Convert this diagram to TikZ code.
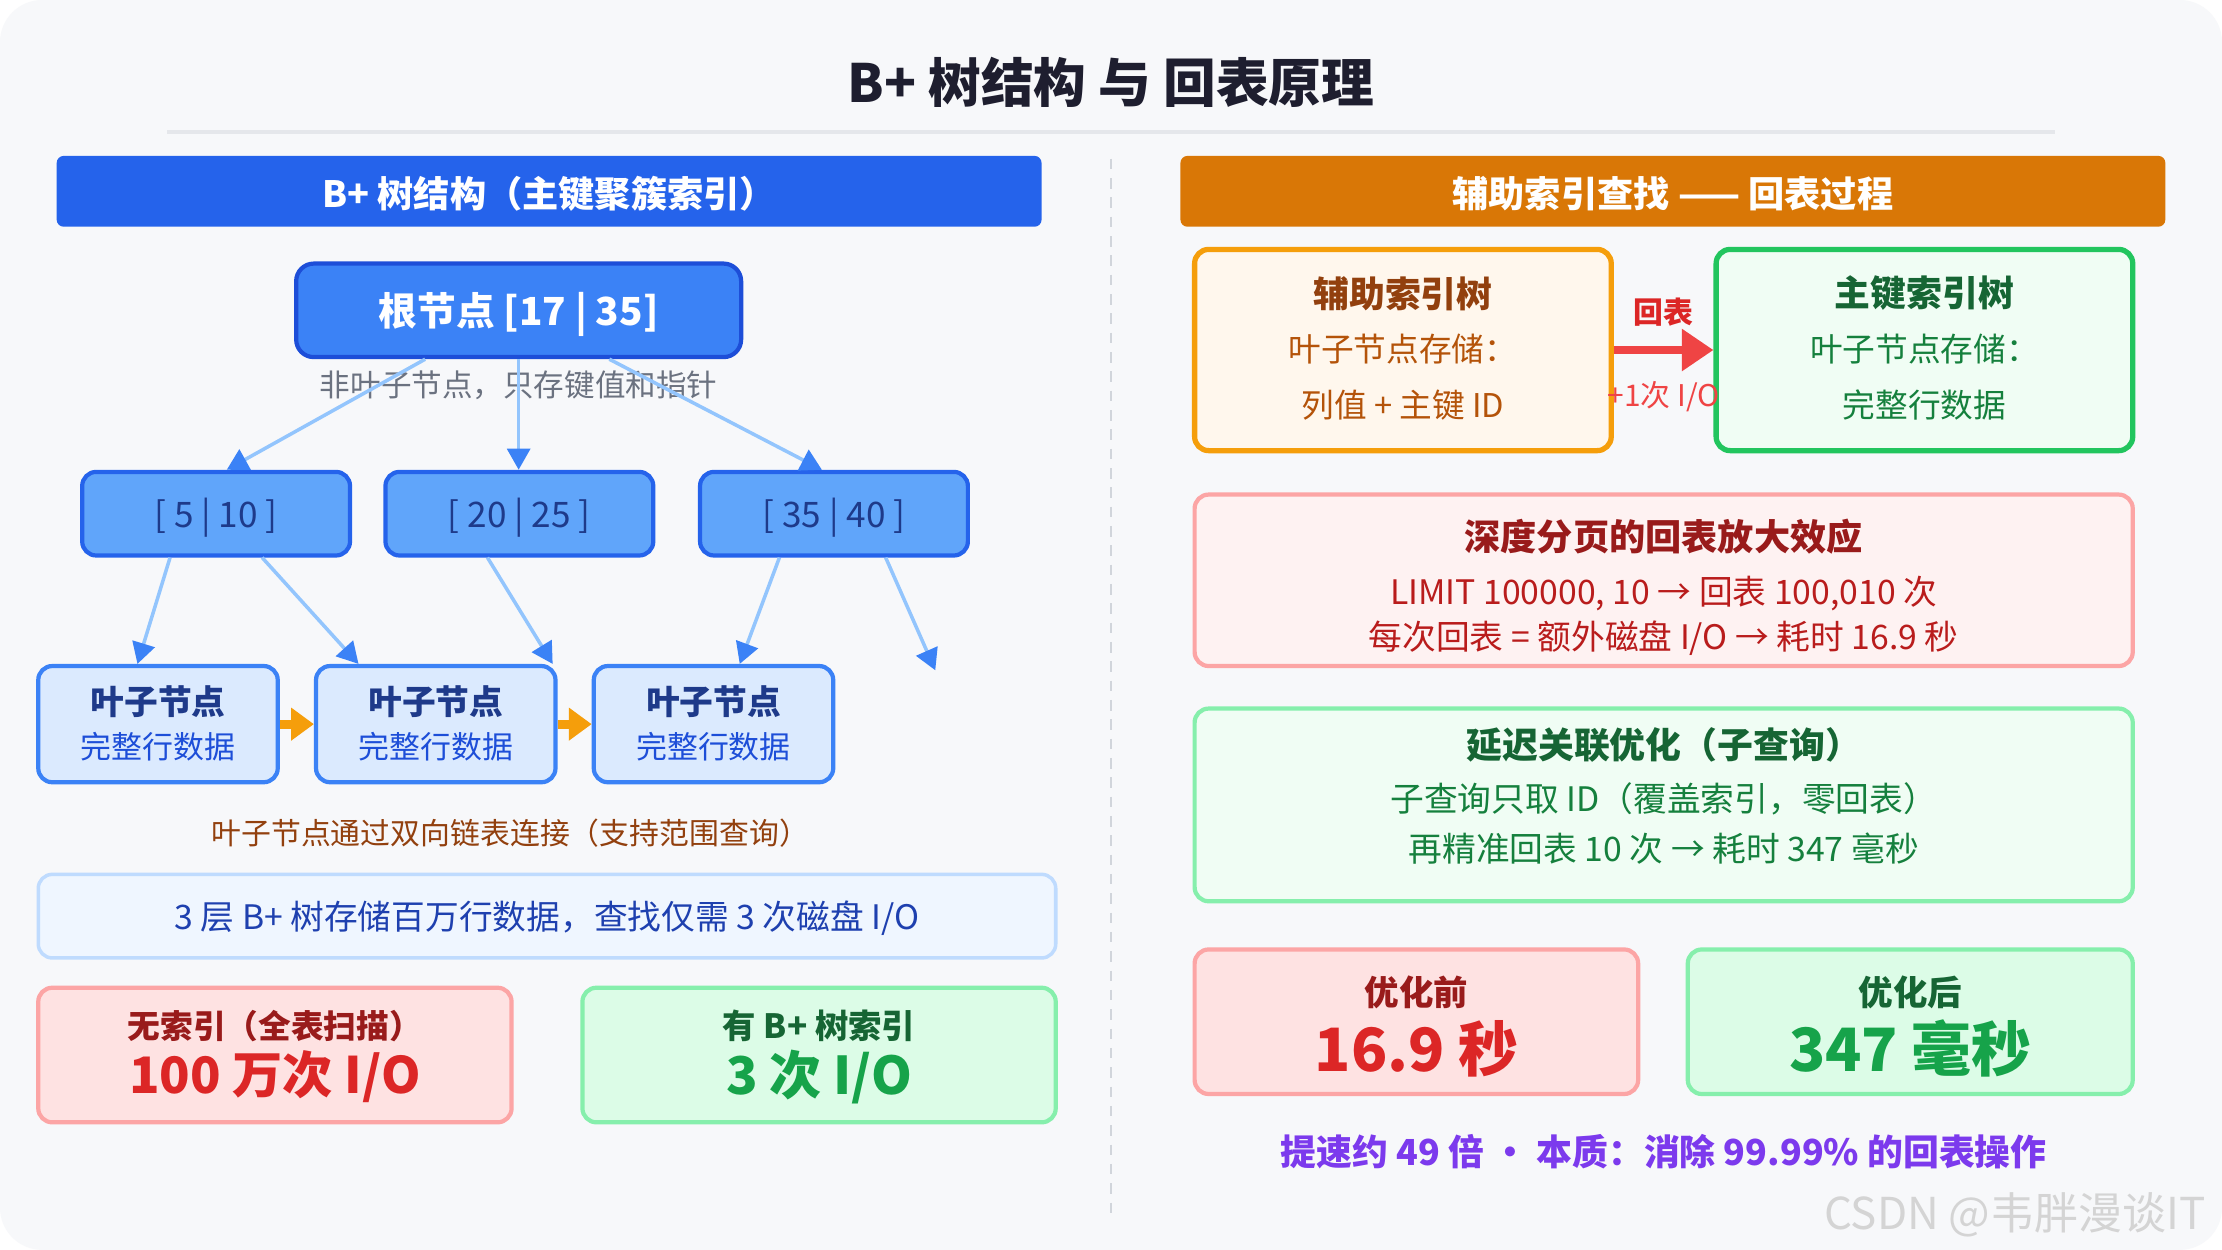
\documentclass[tikz,border=0pt]{standalone}
\usepackage{fontspec}
\setmainfont{Noto Sans CJK SC}
\usepackage{xcolor}
\usetikzlibrary{arrows.meta,fit,positioning}

\definecolor{pagebg}{HTML}{F7F8FA}
\definecolor{titleink}{HTML}{1E1E2F}
\definecolor{rulegray}{HTML}{E5E7EB}
\definecolor{divgray}{HTML}{D1D5DB}
\definecolor{barblue}{HTML}{2563EB}
\definecolor{barorange}{HTML}{D97706}
\definecolor{rootfill}{HTML}{3B82F6}
\definecolor{rootedge}{HTML}{1D4ED8}
\definecolor{innerfill}{HTML}{60A5FA}
\definecolor{inneredge}{HTML}{2563EB}
\definecolor{navy}{HTML}{1E3A8A}
\definecolor{leaffill}{HTML}{DBEAFE}
\definecolor{leafsub}{HTML}{1D4ED8}
\definecolor{linkblue}{HTML}{93C5FD}
\definecolor{tipblue}{HTML}{3B82F6}
\definecolor{chainor}{HTML}{F59E0B}
\definecolor{capgray}{HTML}{6B7280}
\definecolor{brown}{HTML}{92400E}
\definecolor{infofill}{HTML}{EFF6FF}
\definecolor{infoedge}{HTML}{BFDBFE}
\definecolor{infoink}{HTML}{1E40AF}
\definecolor{redfill}{HTML}{FEE2E2}
\definecolor{redfill2}{HTML}{FEF2F2}
\definecolor{rededge}{HTML}{FCA5A5}
\definecolor{redtitle}{HTML}{991B1B}
\definecolor{redink}{HTML}{B91C1C}
\definecolor{redbig}{HTML}{DC2626}
\definecolor{greenfill}{HTML}{DCFCE7}
\definecolor{greenfill2}{HTML}{F0FDF4}
\definecolor{greenedge}{HTML}{86EFAC}
\definecolor{greenedge2}{HTML}{22C55E}
\definecolor{greentitle}{HTML}{166534}
\definecolor{greenink}{HTML}{15803D}
\definecolor{greenbig}{HTML}{16A34A}
\definecolor{secfill}{HTML}{FFF7ED}
\definecolor{secink}{HTML}{B45309}
\definecolor{backred}{HTML}{EF4444}
\definecolor{purple}{HTML}{7C3AED}
\definecolor{markgray}{HTML}{D4D4D4}

\newcommand{\fsz}[1]{\fontsize{#1pt}{#1pt}\selectfont}

\begin{document}
\begin{tikzpicture}[x=0.14171mm, y=-0.14171mm,
    box/.style={draw, rounded corners=4pt, line width=1.2pt, inner sep=0pt},
    bar/.style={rounded corners=2pt, inner sep=0pt},
    bartext/.style={text=white, font=\bfseries\fsz{10.3}, yshift=-0.6pt},
    link/.style={draw=linkblue, line width=1pt, -{Triangle[length=6pt,width=6.5pt,color=tipblue]}},
    chain/.style={draw=chainor, line width=2.5pt, -{Triangle[length=6.5pt,width=9pt]}},
    back/.style={draw=backred, line width=2.2pt, -{Triangle[length=9pt,width=11.5pt]}}]

    % page
    \fill[white] (0,0) rectangle (1568,882);
    \fill[pagebg, rounded corners=12pt] (0,0) rectangle (1568,882);

    \node[font=\bfseries\fsz{15}, text=titleink] (title) at (784,58) {B+ 树结构 与 回表原理};
    \draw[rulegray, line width=1.2pt] (118,93) -- (1450,93);
    \draw[divgray, line width=0.8pt, dash pattern=on 3pt off 2.5pt] (784,112) -- (784,862);

    % Left: B+ tree
    \node[bar, fill=barblue, fit={(40,110) (735,160)}] (lbar) {};
    \node[bartext] (lbar-text) at (lbar.center) {B+ 树结构（主键聚簇索引）};

    \node[box, draw=rootedge, fill=rootfill, rounded corners=5pt, fit={(209,186) (523,252)}] (root) {};
    \node[text=white, font=\bfseries\fsz{11}, yshift=-1.2pt] (root-text) at (root.center) {根节点 [17 | 35]};
    \node[font=\fsz{8.7}, text=capgray] (rootnote) at (366,272) {非叶子节点，只存键值和指针};

    \foreach \n/\x/\lab in {n1/58/{[ 5 | 10 ]}, n2/272/{[ 20 | 25 ]}, n3/494/{[ 35 | 40 ]}} {
        \node[box, draw=inneredge, fill=innerfill, fit={(\x,333) (\x+189,392)}] (\n) {};
        \node[text=navy, font=\fsz{10}, yshift=-1.2pt] (\n-text) at (\n.center) {\lab};
    }

    \foreach \n/\x in {l1/27, l2/223, l3/419} {
        \node[box, draw=tipblue, fill=leaffill, fit={(\x,470) (\x+169,552)}] (\n) {};
        \node[font=\bfseries\fsz{9.6}, text=navy] (\n-top) at (\x+84.5,495) {叶子节点};
        \node[font=\fsz{8.8}, text=leafsub] (\n-sub) at (\x+84.5,527) {完整行数据};
    }

    \draw[link] (root.south -| 300,0) -- (n1.north -| 160,0);
    \draw[link] (root.south -| 366,0) -- (n2.north -| 366,0);
    \draw[link] (root.south -| 430,0) -- (n3.north -| 580,0);

    \coordinate (nextleaf) at (660,473);
    \draw[link] (n1.south -| 120,0) -- (l1.north -| 97,0);
    \draw[link] (n1.south -| 185,0) -- (l2.north -| 253,0);
    \draw[link] (n2.south -| 344,0) -- (l2.north -| 390,0);
    \draw[link] (n3.south -| 550,0) -- (l3.north -| 522,0);
    \draw[link] (n3.south -| 625,0) -- (nextleaf);

    \draw[chain] (l1.east) -- (l2.west);
    \draw[chain] (l2.east) -- (l3.west);

    \node[font=\fsz{8.5}, text=brown] (chainnote) at (360,588) {叶子节点通过双向链表连接（支持范围查询）};

    \node[box, line width=1pt, draw=infoedge, fill=infofill, fit={(27,617) (745,676)}] (info) {};
    \node[font=\fsz{9.6}, text=infoink, yshift=-0.6pt] (info-text) at (info.center) {3 层 B+ 树存储百万行数据，查找仅需 3 次磁盘 I/O};

    \node[box, draw=rededge, fill=redfill, fit={(27,697) (361,792)}] (noidx) {};
    \node[font=\bfseries\fsz{9.3}, text=redtitle] (noidx-top) at (194,724) {无索引（全表扫描）};
    \node[font=\bfseries\fsz{14.3}, text=redbig] (noidx-big) at (194,760) {100 万次 I/O};

    \node[box, draw=greenedge, fill=greenfill, fit={(411,697) (745,792)}] (withidx) {};
    \node[font=\bfseries\fsz{9.5}, text=greentitle] (withidx-top) at (578,724) {有 B+ 树索引};
    \node[font=\bfseries\fsz{14.8}, text=greenbig] (withidx-big) at (578,760) {3 次 I/O};

    % Right: lookup back to table
    \node[bar, fill=barorange, fit={(833,110) (1528,160)}] (rbar) {};
    \node[bartext] (rbar-text) at (rbar.center) {辅助索引查找 —— 回表过程};

    \node[box, line width=1.5pt, draw=chainor, fill=secfill, fit={(843,176) (1137,318)}] (sec) {};
    \node[font=\bfseries\fsz{10.2}, text=brown] (sec-top) at (990,207) {辅助索引树};
    \node[font=\fsz{9.3}, text=secink] (sec-mid) at (990,246) {叶子节点存储：};
    \node[font=\fsz{9.3}, text=secink] (sec-bot) at (990,286) {列值 + 主键 ID};

    \node[box, line width=1.5pt, draw=greenedge2, fill=greenfill2, fit={(1211,176) (1505,318)}] (pk) {};
    \node[font=\bfseries\fsz{10.2}, text=greentitle] (pk-top) at (1358,207) {主键索引树};
    \node[font=\fsz{9.3}, text=greenink] (pk-mid) at (1358,246) {叶子节点存储：};
    \node[font=\fsz{9.3}, text=greenink] (pk-bot) at (1358,286) {完整行数据};

    \draw[back] (sec.east) -- (pk.west);
    \node[font=\bfseries\fsz{8.5}, text=redbig] (backlab) at (1174,220) {回表};
    \node[font=\fsz{8.5}, text=backred] (iolab) at (1174,280) {+1次 I/O};

    \node[box, draw=rededge, fill=redfill2, fit={(843,349) (1505,470)}] (deep) {};
    \node[font=\bfseries\fsz{10.3}, text=redtitle] (deep-top) at (1174,379) {深度分页的回表放大效应};
    \node[font=\fsz{9.6}, text=redink] (deep-mid) at (1174,419) {LIMIT 100000, 10 → 回表 100,010 次};
    \node[font=\fsz{9.6}, text=redink] (deep-bot) at (1174,450) {每次回表 = 额外磁盘 I/O → 耗时 16.9 秒};

    \node[box, draw=greenedge, fill=greenfill2, fit={(843,500) (1505,636)}] (lazy) {};
    \node[font=\bfseries\fsz{10.2}, text=greentitle] (lazy-top) at (1174,526) {延迟关联优化（子查询）};
    \node[font=\fsz{9.6}, text=greenink] (lazy-mid) at (1174,564) {子查询只取 ID（覆盖索引，零回表）};
    \node[font=\fsz{9.6}, text=greenink] (lazy-bot) at (1174,599) {再精准回表 10 次 → 耗时 347 毫秒};

    \node[box, draw=rededge, fill=redfill, fit={(843,670) (1156,772)}] (before) {};
    \node[font=\bfseries\fsz{9.8}, text=redtitle] (before-top) at (999.5,700) {优化前};
    \node[font=\bfseries\fsz{17}, text=redbig] (before-big) at (999.5,740) {16.9 秒};

    \node[box, draw=greenedge, fill=greenfill, fit={(1191,670) (1505,772)}] (after) {};
    \node[font=\bfseries\fsz{9.8}, text=greentitle] (after-top) at (1348,700) {优化后};
    \node[font=\bfseries\fsz{17}, text=greenbig] (after-big) at (1348,740) {347 毫秒};

    \node[font=\bfseries\fsz{10.2}, text=purple] (summary) at (1174,813) {提速约 49 倍 · 本质：消除 99.99\% 的回表操作};

    \node[font=\fsz{12.5}, text=markgray, anchor=east] (mark) at (1565,857) {CSDN @韦胖漫谈IT};
\end{tikzpicture}
\end{document}
